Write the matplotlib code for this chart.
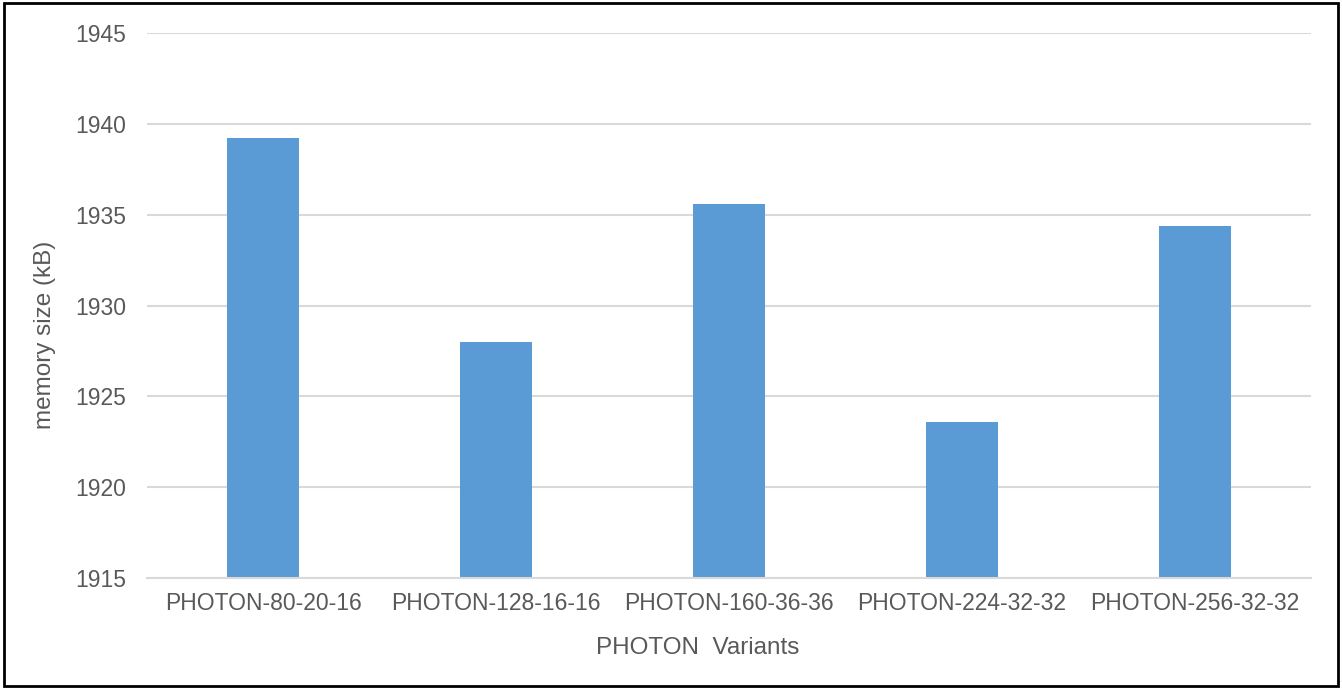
import matplotlib.pyplot as plt
from matplotlib.patches import Rectangle

variants = ["PHOTON-80-20-16", "PHOTON-128-16-16", "PHOTON-160-36-36",
            "PHOTON-224-32-32", "PHOTON-256-32-32"]
memory_kb = [1939.2, 1928.0, 1935.6, 1923.6, 1934.4]
yticks = [1915, 1920, 1925, 1930, 1935, 1940, 1945]

plt.rcParams["font.family"] = ["Liberation Sans", "DejaVu Sans"]

fig = plt.figure(figsize=(13.42, 6.88), dpi=100)
ax = fig.add_axes([0.1095, 0.1599, 0.8675, 0.7921])

x = range(len(variants))
ax.bar(x, memory_kb, width=0.31, color="#5b9bd5", zorder=3)

ax.set_ylim(1915, 1945)
ax.set_xlim(-0.5, len(variants) - 0.5)
ax.set_yticks(yticks)
ax.set_xticks(list(x))
ax.set_xticklabels(variants)
ax.grid(axis="y", color="#d9d9d9", linewidth=1.5, zorder=0)
for side in ["top", "right", "left"]:
    ax.spines[side].set_visible(False)
ax.spines["bottom"].set_color("#d9d9d9")
ax.spines["bottom"].set_linewidth(1.5)
ax.spines["bottom"].set_zorder(4)
ax.tick_params(axis="both", length=0, labelsize=16.5, colors="#595959")
ax.tick_params(axis="y", pad=15)
ax.tick_params(axis="x", pad=10)
ax.set_xlabel("PHOTON  Variants", fontsize=17.5, color="#595959", labelpad=16)
ax.set_ylabel("memory size (kB)", fontsize=17.5, color="#595959", labelpad=14)
# axis titles sit a little off-centre
ax.xaxis.label.set_x(0.473)
ax.yaxis.label.set_y(0.446)

# outer frame around the chart
fig.patches.append(Rectangle((0.003, 0.003), 0.994, 0.992, transform=fig.transFigure,
                             fill=False, edgecolor="black", linewidth=2))

fig.savefig("out.png", dpi=100)
